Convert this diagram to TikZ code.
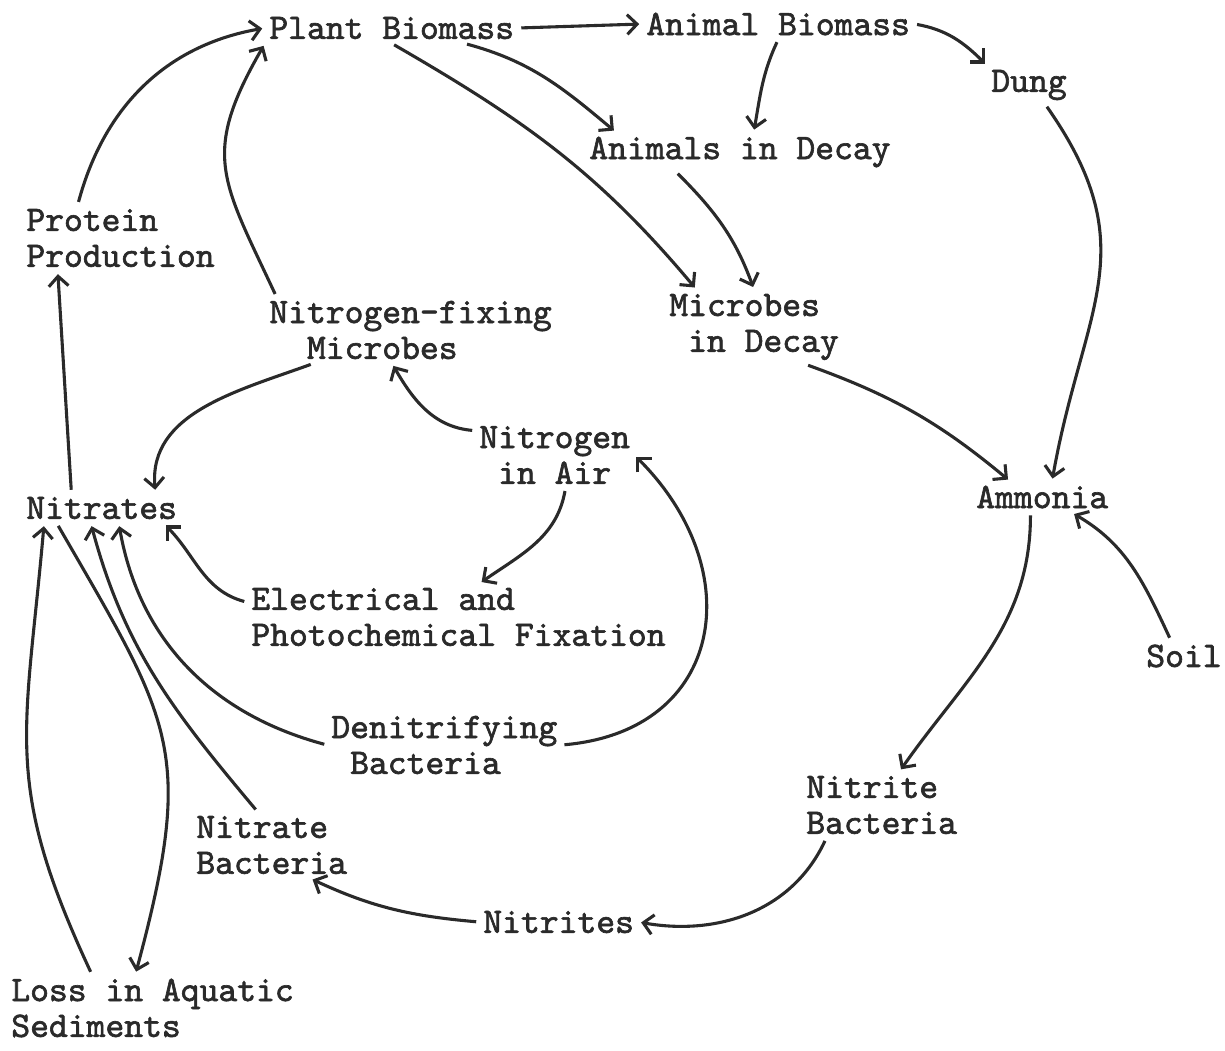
\documentclass[tikz,border=0pt]{standalone}
\usepackage{fontspec}
\newfontfamily\typer{lmmono10-regular.otf}[FakeBold=1.8]
\usetikzlibrary{arrows.meta}
\definecolor{ink}{HTML}{2A2A2A}
\newcommand{\tpad}{\hphantom{M}}

\begin{document}
\begin{tikzpicture}[x=0.025cm,y=-0.025cm,->,>={Straight Barb[length=7pt,width=14pt]},line width=2.2pt,ink,
                    shorten >=2pt,shorten <=2pt,
                    every node/.style={font=\typer\fontsize{25.5}{25.5}\selectfont,inner sep=2pt,align=left,anchor=west}]
\useasboundingbox (0,0) rectangle (1225,1051);

\node (pb)   at (265,28)   {Plant Biomass};
\node (ab)   at (642,24)   {Animal Biomass};
\node (dung) at (987,85)   {Dung};
\node (aid)  at (585,152)  {Animals in Decay};
\node (pp)   at (22,238)   {Protein\\Production};
\node (nfm)  at (265,330)  {Nitrogen-fixing\\\tpad\tpad Microbes};
\node (mid)  at (665,327)  {Microbes\\\tpad in Decay};
\node (nia)  at (475,455)  {Nitrogen\\\tpad in Air};
\node (nitr) at (22,508)   {Nitrates};
\node (amm)  at (972,497)  {Ammonia};
\node (epf)  at (247,617)  {Electrical and\\Photochemical Fixation};
\node (soil) at (1142,656) {Soil};
\node (den)  at (327,745)  {Denitrifying\\\tpad Bacteria};
\node (nib)  at (802,805)  {Nitrite\\Bacteria};
\node (nab)  at (192,845)  {Nitrate\\Bacteria};
\node (nts)  at (479,922)  {Nitrites};
\node (loss) at (7,1008)   {Loss in Aquatic\\Sediments};

% biomass and decay
\draw (pb.east) -- (ab.west);
\draw (ab.east) to[out=-10,in=135] (dung.north west);
\draw (ab.south) to[out=-115,in=80] (aid.55);
\draw (pb.-12) to[out=-15,in=140] (aid.171);
\draw (pb.south) to[out=-30,in=130] (mid.147);
\draw (aid.197) to[out=-45,in=110] (mid.north);
\draw (dung.-50) to[out=-55,in=80,looseness=1.2] (amm.58);
\draw (mid.-36) to[bend left=10] (amm.154);
\draw (soil.130) to[out=115,in=-30] (amm.-28);

% nitrification
\draw (amm.-127) to[out=-90,in=55] (nib.62);
\draw (nib.-149) to[out=-115,in=-10] (nts.east);
\draw (nts.west) to[out=175,in=-25] (nab.-41);
\draw (nab.113) to[out=130,in=-75] (nitr.-125);

% fixation and denitrification
\draw (den.west) to[out=165,in=-80] (nitr.-42);
\draw (den.east) to[out=5,in=-45,looseness=1.4] (nia.east);
\draw (nia.-72) to[out=-100,in=35] (epf.58);
\draw (epf.176) to[out=165,in=-45] (nitr.-14);
\draw (nia.163) to[out=175,in=-60] (nfm.-119);
\draw (nfm.-161) to[out=-160,in=95] (nitr.16);
\draw (nfm.166) to[out=115,in=-120,looseness=1.3] (pb.south west);

% uptake and losses
\draw (pp.142) to[out=75,in=190] (pb.west);
\draw (nitr.153) -- (pp.-152);
\draw (nitr.-161) to[out=-60,in=75,looseness=1.3] (loss.117);
\draw (loss.151) to[out=115,in=-95,looseness=1.2] (nitr.-165);
\end{tikzpicture}
\end{document}
